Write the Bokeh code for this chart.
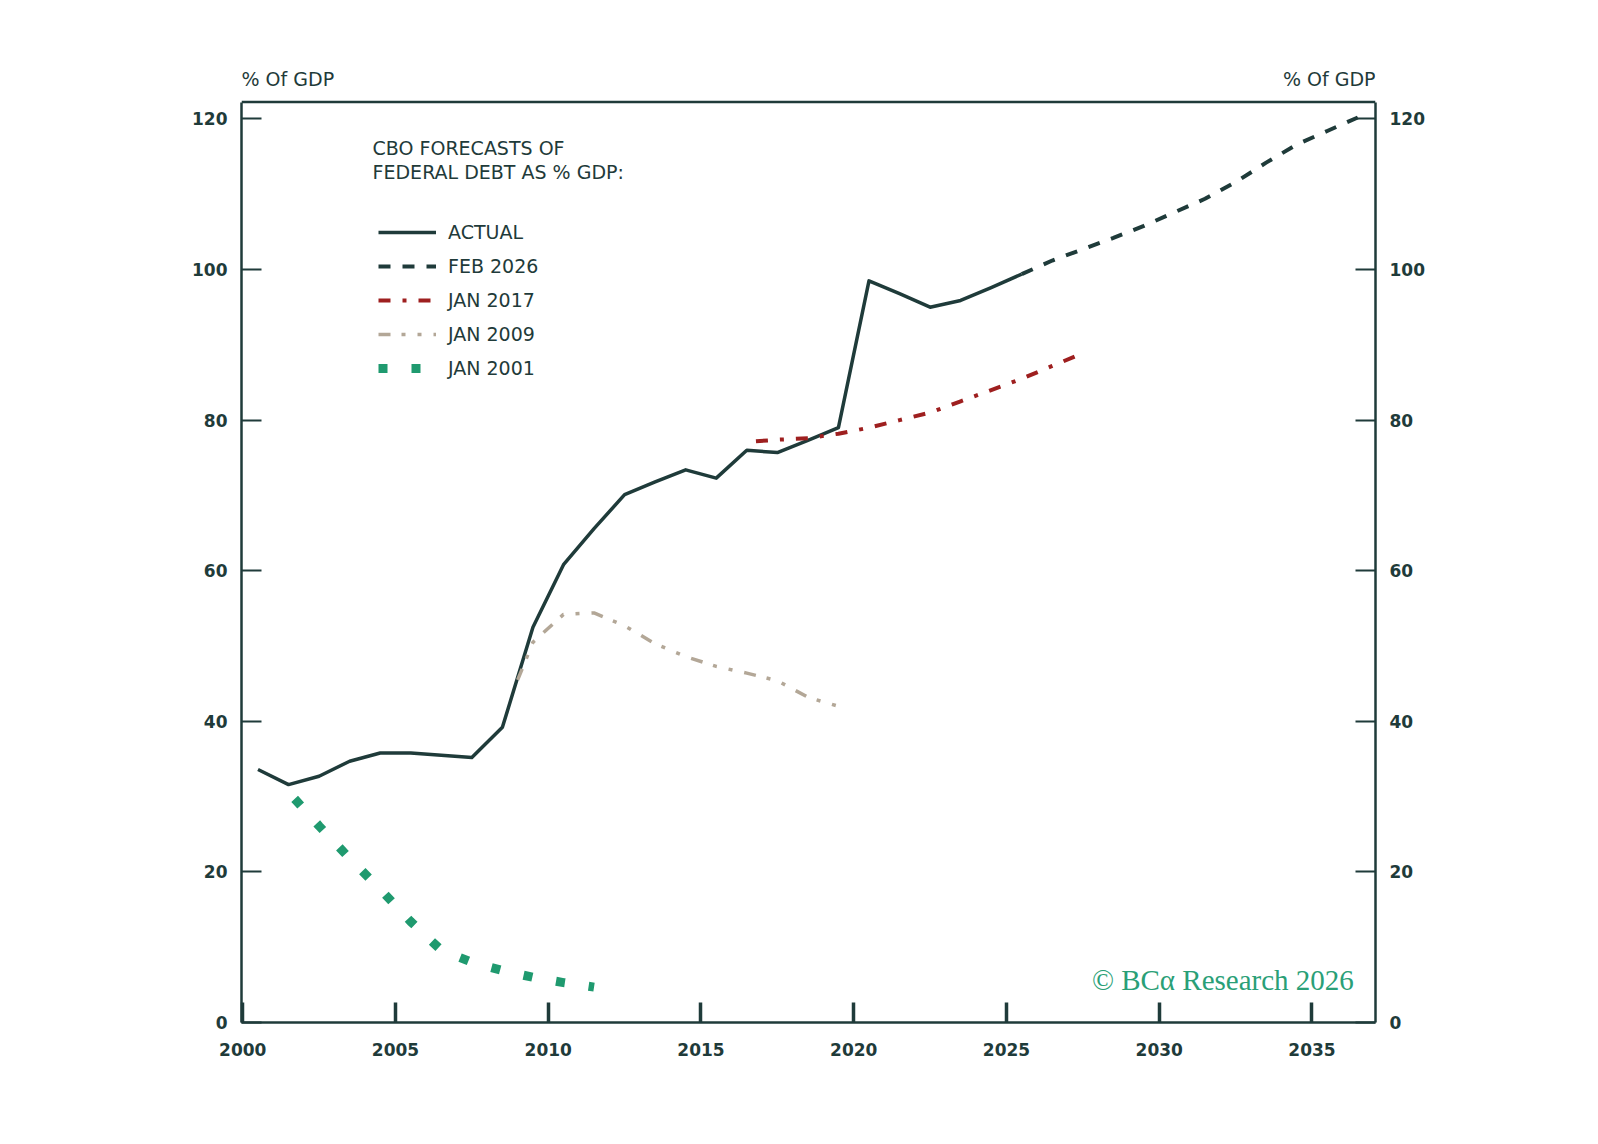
from bokeh.plotting import figure
from bokeh.models import Range1d, LinearAxis, Label, Legend, LegendItem, FixedTicker, Span
from bokeh.embed import file_html
from bokeh.resources import INLINE

# ---- data ----
actual_years = [2000.5, 2001.5, 2002.5, 2003.5, 2004.5, 2005.5, 2006.5, 2007.5, 2008.5, 2009.5,
                2010.5, 2011.5, 2012.5, 2013.5, 2014.5, 2015.5, 2016.5, 2017.5, 2018.5, 2019.5,
                2020.5, 2021.5, 2022.5, 2023.5, 2024.5, 2025.5]
actual_vals = [33.6, 31.6, 32.7, 34.7, 35.8, 35.8, 35.5, 35.2, 39.2, 52.5,
               60.8, 65.6, 70.1, 71.8, 73.4, 72.3, 76.0, 75.7, 77.3, 79.0,
               98.5, 96.8, 95.0, 95.9, 97.6, 99.4]

feb2026_years = [2025.5, 2026.5, 2027.5, 2028.5, 2029.5, 2030.5, 2031.5, 2032.5, 2033.5, 2034.5, 2035.5, 2036.5]
feb2026_vals = [99.4, 101.2, 102.7, 104.2, 105.8, 107.6, 109.4, 111.6, 114.2, 116.6, 118.4, 120.2]

jan2017_years = [2016.8, 2017.5, 2018.5, 2019.5, 2020.5, 2021.5, 2022.5, 2023.5, 2024.5, 2025.5, 2026.5, 2027.5]
jan2017_vals = [77.2, 77.4, 77.6, 78.2, 79.0, 80.0, 81.0, 82.5, 84.0, 85.5, 87.2, 88.9]

jan2009_years = [2009.0, 2009.5, 2010.5, 2011.5, 2012.5, 2013.5, 2014.5, 2015.5, 2016.5, 2017.5, 2018.5, 2019.5]
jan2009_vals = [45.5, 50.5, 54.2, 54.4, 52.7, 50.3, 48.6, 47.3, 46.4, 45.4, 43.2, 42.0]

jan2001_years = [2001.7, 2002.5, 2003.5, 2004.5, 2005.5, 2006.5, 2007.5, 2008.5, 2009.5, 2010.5, 2011.5]
jan2001_vals = [29.7, 26.1, 21.8, 17.7, 13.4, 9.6, 8.0, 6.9, 6.0, 5.3, 4.7]

x_ticks = [2000, 2005, 2010, 2015, 2020, 2025, 2030, 2035]
y_ticks = [0, 20, 40, 60, 80, 100, 120]

series_names = ["ACTUAL", "FEB 2026", "JAN 2017", "JAN 2009", "JAN 2001"]
axis_title = "% Of GDP"
legend_title = ["CBO FORECASTS OF", "FEDERAL DEBT AS % GDP:"]
credit = "\u00a9 BC\u03b1 Research 2026"

# ---- style ----
DARK = "#1f3b3a"
RED = "#9e1f1f"
GREY = "#b3a797"
GREEN = "#1f9a6f"
FONT = "DejaVu Sans"

X0, X1 = 1999.96, 2037.08
Y_TOP = 122.25          # top of the drawn box
Y_END = 127.5           # frame extends above the box to hold the axis titles

p = figure(width=1590, height=1136, output_backend="svg", toolbar_location=None,
           x_range=Range1d(X0, X1), y_range=Range1d(0, Y_END),
           min_border_left=241, min_border_right=215, min_border_top=62, min_border_bottom=114,
           background_fill_color="white", border_fill_color="white")
p.grid.visible = False
p.outline_line_color = None

def style_axis(ax, tick_w):
    ax.axis_line_color = DARK
    ax.axis_line_width = 2.5
    ax.major_tick_in = 20
    ax.major_tick_out = 0
    ax.minor_tick_in = 0
    ax.minor_tick_out = 0
    ax.major_tick_line_color = DARK
    ax.major_tick_line_width = tick_w
    ax.major_label_text_font = FONT
    ax.major_label_text_font_style = "bold"
    ax.major_label_text_font_size = "17px"
    ax.major_label_text_color = DARK

p.xaxis.ticker = FixedTicker(ticks=x_ticks)
style_axis(p.xaxis[0], 3.5)
p.xaxis.major_label_standoff = 20
p.yaxis.ticker = FixedTicker(ticks=y_ticks)
style_axis(p.yaxis[0], 2)
p.yaxis.major_label_standoff = 14
p.yaxis.bounds = (0, Y_TOP)

right_axis = LinearAxis(ticker=FixedTicker(ticks=y_ticks), bounds=(0, Y_TOP))
style_axis(right_axis, 2)
right_axis.major_label_standoff = 14
p.add_layout(right_axis, "right")

p.add_layout(Span(location=Y_TOP, dimension="width", line_color=DARK, line_width=2.5))

r_actual = p.line(actual_years, actual_vals, line_color=DARK, line_width=3.5, line_join="round")
r_feb = p.line(feb2026_years, feb2026_vals, line_color=DARK, line_width=4, line_dash="12 12")
r_2017 = p.line(jan2017_years, jan2017_vals, line_color=RED, line_width=4, line_dash="12 12 4 12")
r_2009 = p.line(jan2009_years, jan2009_vals, line_color=GREY, line_width=3.5, line_dash="12 11 4 12 4 12")
r_2001 = p.line(jan2001_years, jan2001_vals, line_color=GREEN, line_width=9, line_dash="9 24")

legend = Legend(items=[LegendItem(label=series_names[0], renderers=[r_actual]),
                       LegendItem(label=series_names[1], renderers=[r_feb]),
                       LegendItem(label=series_names[2], renderers=[r_2017]),
                       LegendItem(label=series_names[3], renderers=[r_2009]),
                       LegendItem(label=series_names[4], renderers=[r_2001])],
                location=(137, 643), orientation="vertical",
                padding=0, margin=0, spacing=12, glyph_width=58, glyph_height=20,
                label_height=20, label_standoff=12,
                label_text_font=FONT, label_text_font_size="19px", label_text_color=DARK,
                border_line_alpha=0, background_fill_alpha=0)
p.add_layout(legend, "center")

p.add_layout(Label(x=2004.25, y=116.2, text=legend_title[0], text_align="left", text_baseline="alphabetic",
                   text_font=FONT, text_font_size="19px", text_color=DARK))
p.add_layout(Label(x=2004.25, y=113.0, text=legend_title[1], text_align="left", text_baseline="alphabetic",
                   text_font=FONT, text_font_size="19px", text_color=DARK))

p.add_layout(Label(x=X0, y=125.3, text=axis_title, text_align="left", text_baseline="alphabetic",
                   text_font=FONT, text_font_size="19px", text_color=DARK))
p.add_layout(Label(x=X1, y=125.3, text=axis_title, text_align="right", text_baseline="alphabetic",
                   text_font=FONT, text_font_size="19px", text_color=DARK))

p.add_layout(Label(x=2036.37, y=5.6, text=credit, text_align="right", text_baseline="alphabetic",
                   text_font="Liberation Serif", text_font_size="29px", text_color="#2a9f77"))

open("out.html", "w").write(file_html(p, INLINE))
